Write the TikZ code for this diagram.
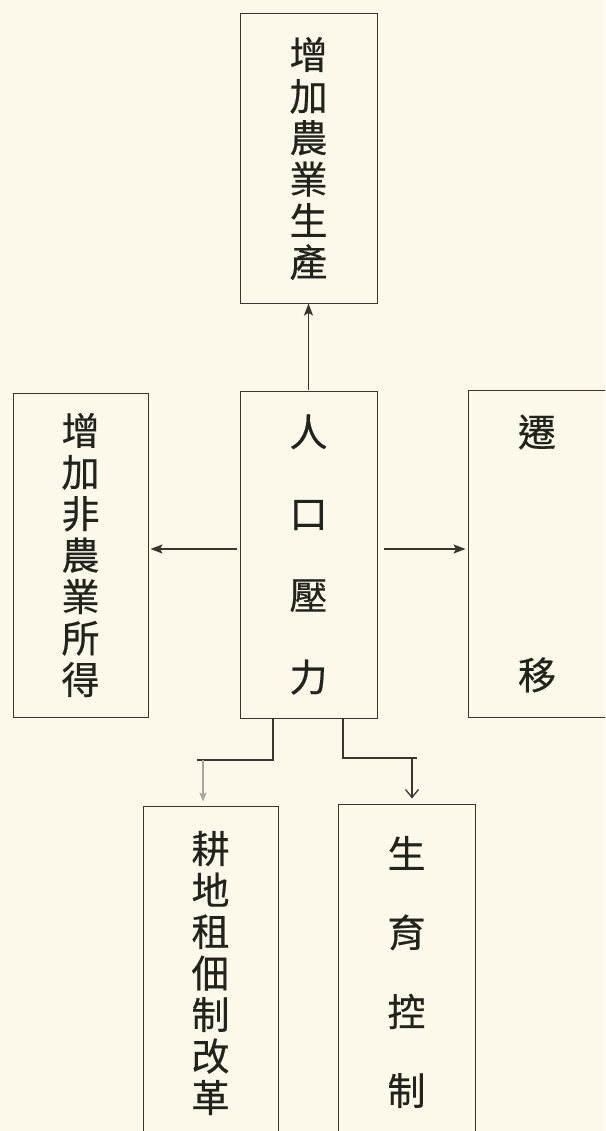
\documentclass[tikz,border=0pt]{standalone}
\usepackage{fontspec}
\newfontfamily\cjk[FakeBold=0.5]{Noto Sans CJK TC}
\usetikzlibrary{arrows.meta}
\definecolor{paper}{RGB}{252,249,234}
\definecolor{ink}{RGB}{35,35,30}
\definecolor{rule}{RGB}{55,55,48}
\tikzset{
  box/.style={draw=rule, line width=1pt, rectangle, inner sep=0pt, text=ink, align=center},
  tight/.style={font=\cjk\fontsize{38}{41.5}\selectfont},
  wide/.style={font=\cjk\fontsize{38}{81.7}\selectfont},
  conn/.style={draw=rule, line width=1.3pt},
  arr/.style={conn, -{Stealth[length=12pt,width=9pt,inset=2.5pt]}},
  vee/.style={conn, -{Straight Barb[length=8pt,width=13pt]}},
}
\begin{document}
\begin{tikzpicture}[x=1pt,y=-1pt]
\useasboundingbox (0,0) rectangle (605,1131);
\fill[paper] (0,0) rectangle (605,1131);
\clip (0,0) rectangle (605,1131);
% boxes
\node[box, tight, minimum width=137pt, minimum height=289pt] (top) at (308.5,158.5) {增\\加\\農\\業\\生\\產};
\node[box, wide, minimum width=137pt, minimum height=327pt] (center) at (308.5,554.5) {人\\口\\壓\\力};
\node[box, tight, minimum width=135pt, minimum height=324pt] (left) at (80.5,555) {增\\加\\非\\農\\業\\所\\得};
\node[box, font=\cjk\fontsize{38}{243}\selectfont, minimum width=142pt, minimum height=327pt, text width=142pt] (right) at (539,553.5) {\hspace*{-4pt}遷\\\hspace*{-4pt}移};
\node[box, tight, minimum width=135pt, minimum height=334pt] (bl) at (210.5,973) {耕\\地\\租\\佃\\制\\改\\革};
\node[box, font=\cjk\fontsize{38}{79}\selectfont, minimum width=137pt, minimum height=336pt] (br) at (406.5,972) {生\\育\\控\\制};
% helper coordinates
\coordinate (ya) at (0,549);
\coordinate (bl1) at (273,760);
\coordinate (bl0) at (197,760);
\coordinate (bl2) at (203,760);
\coordinate (br1) at (343,758);
\coordinate (br2) at (417,758);
\coordinate (br3) at (412,758);
% connectors
\draw[arr, shorten <=1pt] (center.north) -- (top.south);
\draw[arr, shorten <=3pt, shorten >=2pt] (center.west |- ya) -- (left.east |- ya);
\draw[arr, shorten <=6pt, shorten >=2pt] (center.east |- ya) -- (right.west |- ya);
\draw[conn] (center.south -| bl1) -- (bl1) -- (bl0);
\draw[conn, draw=rule!45, -{Stealth[length=9pt,width=7pt,inset=2pt]}, shorten >=4pt] (bl2) -- (bl.north -| bl2);
\draw[conn] (center.south -| br1) -- (br1) -- (br2);
\draw[vee, shorten >=5pt] (br3) -- (br.north -| br3);
\end{tikzpicture}
\end{document}
